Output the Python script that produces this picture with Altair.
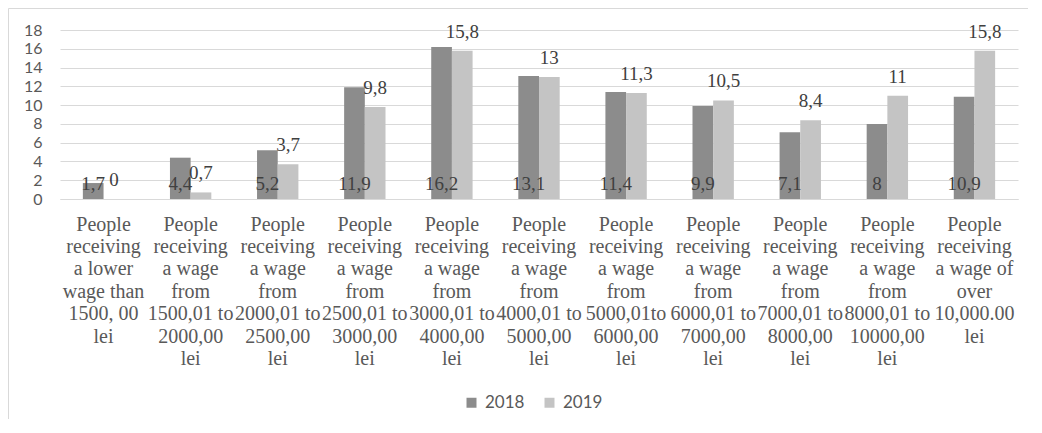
import altair as alt
import pandas as pd

categories = [
    "People|receiving|a lower|wage than|1500, 00|lei",
    "People|receiving|a wage|from|1500,01 to|2000,00|lei",
    "People|receiving|a wage|from|2000,01 to|2500,00|lei",
    "People|receiving|a wage|from|2500,01 to|3000,00|lei",
    "People|receiving|a wage|from|3000,01 to|4000,00|lei",
    "People|receiving|a wage|from|4000,01 to|5000,00|lei",
    "People|receiving|a wage|from|5000,01to|6000,00|lei",
    "People|receiving|a wage|from|6000,01 to|7000,00|lei",
    "People|receiving|a wage|from|7000,01 to|8000,00|lei",
    "People|receiving|a wage|from|8000,01 to|10000,00|lei",
    "People|receiving|a wage of|over|10,000.00|lei",
]
years = ["2018", "2019"]
values_2018 = [1.7, 4.4, 5.2, 11.9, 16.2, 13.1, 11.4, 9.9, 7.1, 8, 10.9]
values_2019 = [0, 0.7, 3.7, 9.8, 15.8, 13, 11.3, 10.5, 8.4, 11, 15.8]
labels_2018 = ["1,7", "4,4", "5,2", "11,9", "16,2", "13,1", "11,4", "9,9", "7,1", "8", "10,9"]
labels_2019 = ["0", "0,7", "3,7", "9,8", "15,8", "13", "11,3", "10,5", "8,4", "11", "15,8"]
y_ticks = [0, 2, 4, 6, 8, 10, 12, 14, 16, 18]

rows = []
for c, v, l in zip(categories, values_2018, labels_2018):
    rows.append({"cat": c, "year": "2018", "value": v, "label": l})
for c, v, l in zip(categories, values_2019, labels_2019):
    rows.append({"cat": c, "year": "2019", "value": v, "label": l})
df = pd.DataFrame(rows)

W, H = 958, 169
PAD = {"left": 52, "top": 22, "right": 10, "bottom": 220}
SERIF = "'Liberation Serif', 'DejaVu Serif', serif"

x_axis = alt.Axis(
    title=None,
    labelAngle=0,
    labelExpr="split(datum.label, '|')",
    labelFont=SERIF,
    labelFontSize=20,
    labelLineHeight=22.4,
    labelColor="#595959",
    labelPadding=15,
    labelBaseline="top",
    labelOverlap=False,
    labelBound=False,
    labelLimit=0,
    ticks=False,
    domainColor="#d9d9d9",
    domainWidth=1,
    grid=False,
)
y_axis = alt.Axis(
    title=None,
    values=y_ticks,
    labelFont="Lato",
    labelFontSize=16,
    labelColor="#595959",
    labelPadding=18,
    labelOverlap=False,
    ticks=False,
    domain=False,
    gridColor="#d9d9d9",
    gridWidth=1,
)
x_scale = alt.Scale(paddingInner=0.525, paddingOuter=0.2625)
xo_enc = alt.XOffset("year:N", scale=alt.Scale(domain=years, paddingInner=0, paddingOuter=0))
y_scale = alt.Scale(domain=[0, 18], nice=False)

base = alt.Chart(df)

bars = base.mark_bar().encode(
    x=alt.X("cat:N", sort=categories, scale=x_scale, axis=x_axis),
    xOffset=xo_enc,
    y=alt.Y("value:Q", scale=y_scale, axis=y_axis),
    color=alt.Color(
        "year:N",
        scale=alt.Scale(domain=years, range=["#8c8c8c", "#c4c4c4"]),
        legend=alt.Legend(
            title=None,
            orient="none",
            legendX=403,
            legendY=364,
            direction="horizontal",
            symbolType="square",
            symbolSize=100,
            symbolStrokeWidth=0,
            labelFont="Lato",
            labelFontSize=17,
            labelColor="#595959",
            labelOffset=5,
            columnPadding=16,
        ),
    ),
)

text18 = base.transform_filter(alt.datum.year == "2018").mark_text(
    font=SERIF, fontSize=19, color="#404040", baseline="alphabetic", dy=-9
).encode(
    x=alt.X("cat:N", sort=categories, scale=x_scale, axis=x_axis),
    xOffset=xo_enc,
    y=alt.Y("zero:Q", scale=y_scale, axis=y_axis),
    text="label:N",
).transform_calculate(zero="0")

text19 = base.transform_filter(alt.datum.year == "2019").mark_text(
    font=SERIF, fontSize=19, color="#404040", baseline="alphabetic", dy=-13
).encode(
    x=alt.X("cat:N", sort=categories, scale=x_scale, axis=x_axis),
    xOffset=xo_enc,
    y=alt.Y("value:Q", scale=y_scale, axis=y_axis),
    text="label:N",
)

frame_df = pd.DataFrame({"a": [0]})
top_line = alt.Chart(frame_df).mark_rule(color="#d9d9d9", strokeWidth=1).encode(
    x=alt.value(-PAD["left"] + 0.5), x2=alt.value(W + PAD["right"]), y=alt.value(-PAD["top"] + 0.5)
)
left_line = alt.Chart(frame_df).mark_rule(color="#d9d9d9", strokeWidth=1).encode(
    x=alt.value(-PAD["left"] + 0.5), y=alt.value(-PAD["top"] + 0.5), y2=alt.value(H + PAD["bottom"])
)

chart = alt.layer(bars, text18, text19, top_line, left_line).properties(
    width=W,
    height=H,
    padding=PAD,
    autosize=alt.AutoSizeParams(type="none"),
).configure_view(stroke=None)

chart.save("out.html", embed_options={"renderer": "svg", "actions": False})
